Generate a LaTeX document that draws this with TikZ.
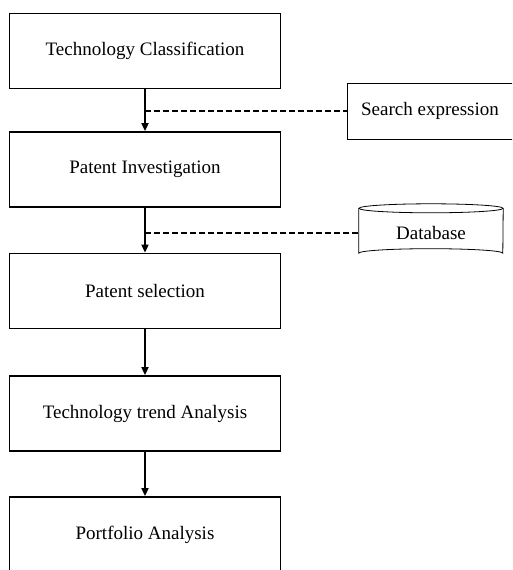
\documentclass[tikz,border=0pt]{standalone}
\usepackage{fontspec}
\setmainfont{Liberation Serif}
\usetikzlibrary{arrows.meta,calc}
\begin{document}
\begin{tikzpicture}[x=1pt,y=-1pt,
  stepbox/.style={draw,line width=1.8pt,minimum width=271pt,minimum height=75pt,
    inner sep=0pt,font=\fontsize{19}{23}\selectfont},
  sidebox/.style={draw,line width=0.8pt,minimum width=166pt,minimum height=56pt,
    inner sep=0pt,font=\fontsize{19}{23}\selectfont},
  dbbox/.style={minimum width=144pt,minimum height=49pt,inner sep=0pt,
    font=\fontsize{19}{23}\selectfont},
  flow/.style={line width=1.8pt,-{Triangle[length=8pt,width=7pt]}},
  link/.style={line width=1.2pt,dash pattern=on 6pt off 3pt}]
\clip (0,0) rectangle (512,570);
\useasboundingbox (0,0) rectangle (512,570);

% main chain of steps
\node[stepbox] (b1) at (145,51)    {Technology Classification};
\node[stepbox] (b2) at (145,169.5) {Patent Investigation};
\node[stepbox] (b3) at (145,291)   {Patent selection};
\node[stepbox] (b4) at (145,413.5) {Technology trend Analysis};
\node[stepbox] (b5) at (145,534.5) {Portfolio Analysis};

\draw[flow] (b1.south) -- (b2.north);
\draw[flow] (b2.south) -- (b3.north);
\draw[flow] (b3.south) -- (b4.north);
\draw[flow] (b4.south) -- (b5.north);

% side inputs
\node[sidebox] (se) at (430,111) {Search expression};
\node[dbbox] (db) at (431,233) {\raisebox{-4pt}{Database}};

% database cylinder
\draw[line width=0.8pt] (db.north) ellipse [x radius=72, y radius=4.5];
\draw[line width=0.8pt] (db.north west) -- ($(db.south west)+(0,-4.5)$)
  arc[start angle=180, end angle=360, x radius=72, y radius=4.5] -- (db.north east);

\coordinate (j1) at (b1.south |- se.west);
\coordinate (j2) at (b2.south |- db.west);
\draw[link] (j1) -- (se.west);
\draw[link] (j2) -- (db.west);
\end{tikzpicture}
\end{document}
